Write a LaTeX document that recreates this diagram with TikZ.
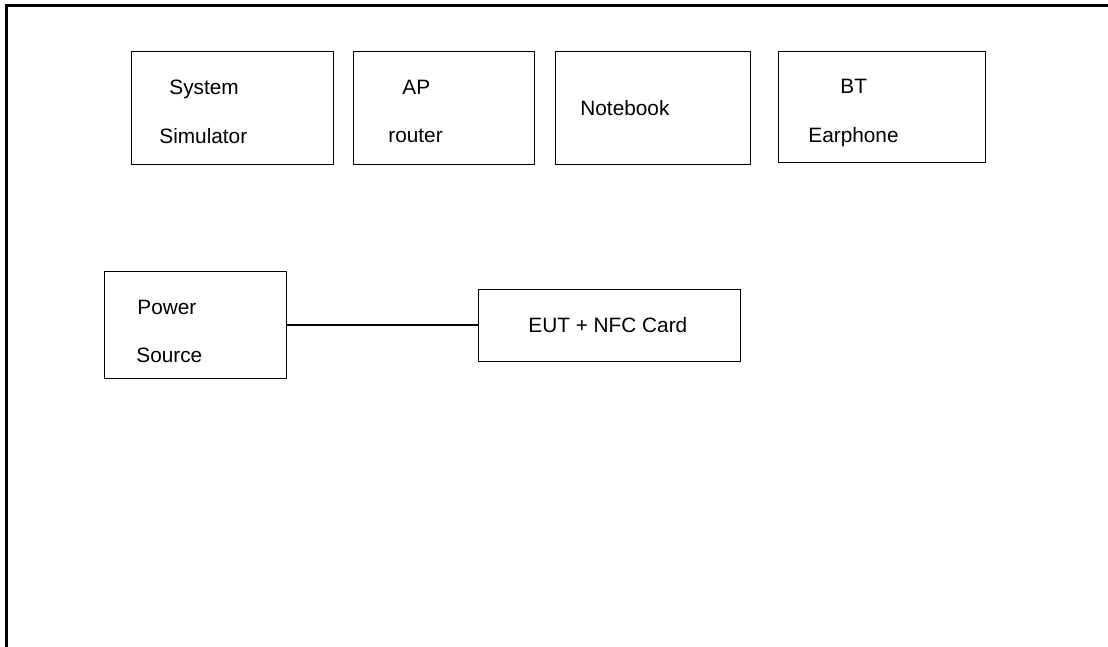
\documentclass[tikz,border=0pt]{standalone}
\usepackage{fontspec}
\setmainfont{Liberation Sans}
\usepackage{tikz}
\tikzset{
  unit/.style={draw, line width=0.5pt, inner sep=0pt},
  txt/.style={anchor=base west, inner sep=0pt, font=\fontsize{10.4pt}{12pt}\selectfont}
}

\begin{document}
\begin{tikzpicture}[x=0.5pt,y=-0.5pt]
\useasboundingbox (0,0) rectangle (1108,647);
\draw[line width=1.5pt] (6,647) -- (6,6) -- (1108,6);
% top row
\node[unit, minimum width=101pt, minimum height=56pt] (sim) at (232,108) {};
\node[unit, minimum width=90.5pt, minimum height=56pt] (ap) at (443.5,108) {};
\node[unit, minimum width=97.5pt, minimum height=56pt] (nb) at (652.5,108) {};
\node[unit, minimum width=103.5pt, minimum height=55pt] (bt) at (881.5,107) {};
\node[txt] (simA) at (169,95) {System};
\node[txt] (simB) at (159,143) {Simulator};
\node[txt] (apA) at (402,95) {AP};
\node[txt] (apB) at (388,142) {router};
\node[txt] (nbA) at (580,116) {Notebook};
\node[txt] (btA) at (840,94) {BT};
\node[txt] (btB) at (808,142) {Earphone};
% bottom row
\node[unit, minimum width=91pt, minimum height=53.5pt] (pwr) at (195,325) {};
\node[unit, minimum width=131pt, minimum height=36pt] (eut) at (609,325) {};
\node[txt] (pwrA) at (137,314) {Power};
\node[txt] (pwrB) at (136,362) {Source};
\node[txt] (eutA) at (528,332) {EUT + NFC Card};
\draw[line width=0.8pt] (pwr.east) -- (eut.west);
\end{tikzpicture}
\end{document}
